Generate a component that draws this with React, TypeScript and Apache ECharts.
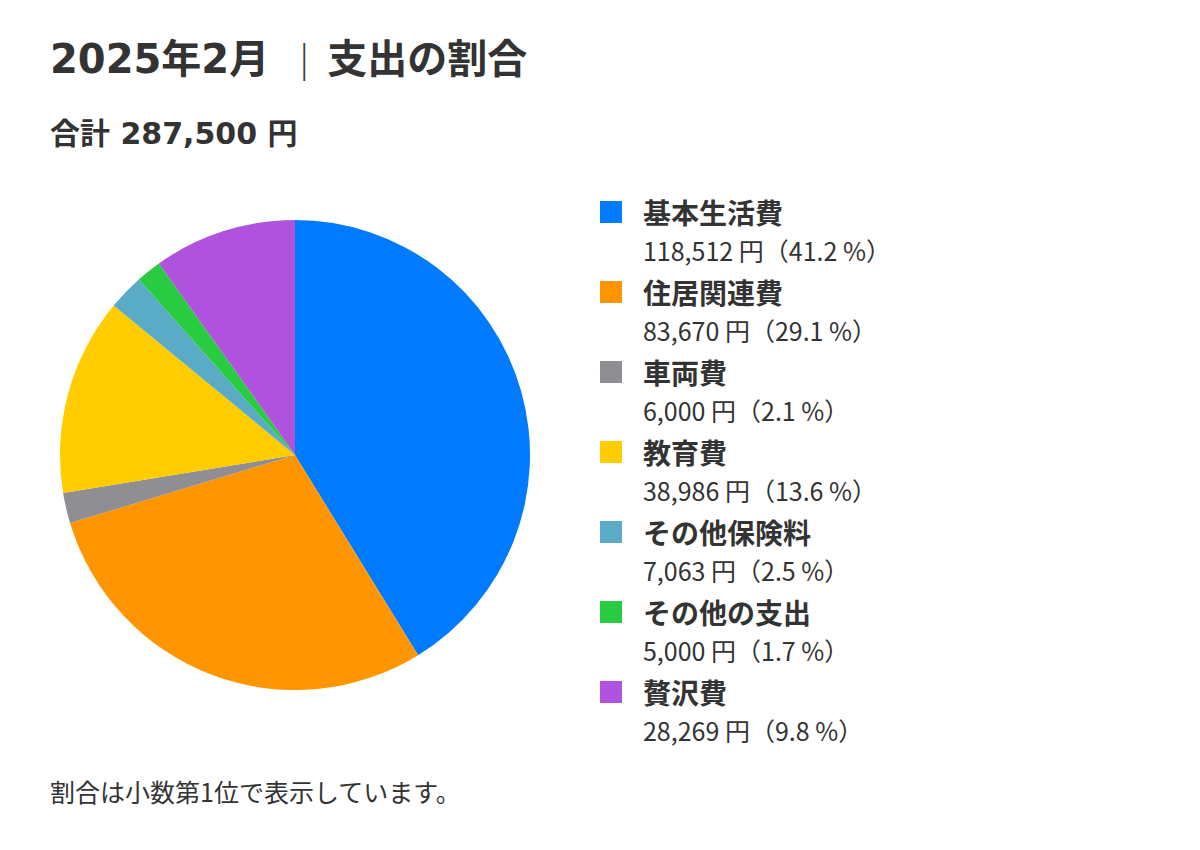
import * as echarts from "echarts";
import { useEffect, useRef } from "react";

const categories = ["基本生活費", "住居関連費", "車両費", "教育費", "その他保険料", "その他の支出", "贅沢費"];
const amounts = [118512, 83670, 6000, 38986, 7063, 5000, 28269];
const colors = ["#007AFF", "#FF9500", "#8E8E93", "#FFCC00", "#5AACC6", "#29CC41", "#AF52DE"];

// heading digits are wide in the reference, DejaVu gets the widths closest
const FONT_HEAD = "'DejaVu Sans', 'Noto Sans CJK JP', sans-serif";
const FONT = "'Noto Sans CJK JP', 'Noto Sans', sans-serif";
const TEXT = "#333333";

const fmt = (n: number) => n.toLocaleString("en-US");

export default function App() {
  const ref = useRef<HTMLDivElement | null>(null);

  useEffect(() => {
    if (!ref.current) {
      return;
    }
    document.body.style.margin = "0";

    const total = amounts.reduce((a, b) => a + b, 0);
    const chart = echarts.init(ref.current, null, { renderer: "svg" });
    chart.setOption({
      animation: false,
      backgroundColor: "#ffffff",
      title: [
        {
          left: 50,
          top: 36,
          padding: 0,
          text: "{a|2025年2月}{s|｜}{a|支出の割合}",
          textStyle: {
            rich: {
              a: { fontFamily: FONT_HEAD, fontSize: 40, fontWeight: "bold", color: TEXT, lineHeight: 46 },
              s: {
                fontFamily: FONT,
                fontSize: 38,
                fontWeight: "bold",
                color: "#3a3a3a",
                lineHeight: 46,
                padding: [0, 4, 0, 16]
              }
            }
          }
        },
        {
          left: 50,
          top: 116,
          padding: 0,
          text: `合計 ${fmt(total)} 円`,
          textStyle: { fontFamily: FONT_HEAD, fontSize: 30, fontWeight: "bold", color: TEXT, lineHeight: 34 }
        },
        {
          left: 50,
          top: 776,
          padding: 0,
          text: "割合は小数第1位で表示しています。",
          textStyle: { fontFamily: FONT, fontSize: 25, fontWeight: "normal", color: TEXT, lineHeight: 30 }
        }
      ],
      legend: {
        orient: "vertical",
        left: 600,
        top: 193,
        padding: 0,
        itemGap: 4,
        itemWidth: 22,
        itemHeight: 76,
        icon: "path://M0,8L22,8L22,30L0,30Z M0,0L0,0.01 M0,76L0,76.01",
        itemStyle: { borderWidth: 0 },
        selectedMode: false,
        data: categories,
        formatter: (name: string) => {
          const i = categories.indexOf(name);
          const pct = ((amounts[i] / total) * 100).toFixed(1);
          return `{n|${name}}\n{v|${fmt(amounts[i])} 円（${pct} %）}`;
        },
        textStyle: {
          padding: [0, 0, 0, 16],
          rich: {
            n: { fontFamily: FONT, fontSize: 28, fontWeight: "bold", color: TEXT, lineHeight: 38 },
            v: { fontFamily: FONT, fontSize: 25, fontWeight: "normal", color: TEXT, lineHeight: 38 }
          }
        }
      },
      series: [
        {
          type: "pie",
          center: [295, 455],
          radius: 235,
          startAngle: 90,
          clockwise: true,
          silent: true,
          label: { show: false },
          labelLine: { show: false },
          itemStyle: { borderWidth: 0 },
          data: categories.map((name, i) => ({
            name,
            value: amounts[i],
            itemStyle: { color: colors[i] }
          }))
        }
      ]
    });

    return () => {
      chart.dispose();
    };
  }, []);

  return <div ref={ref} style={{ width: 1200, height: 850 }} />;
}
